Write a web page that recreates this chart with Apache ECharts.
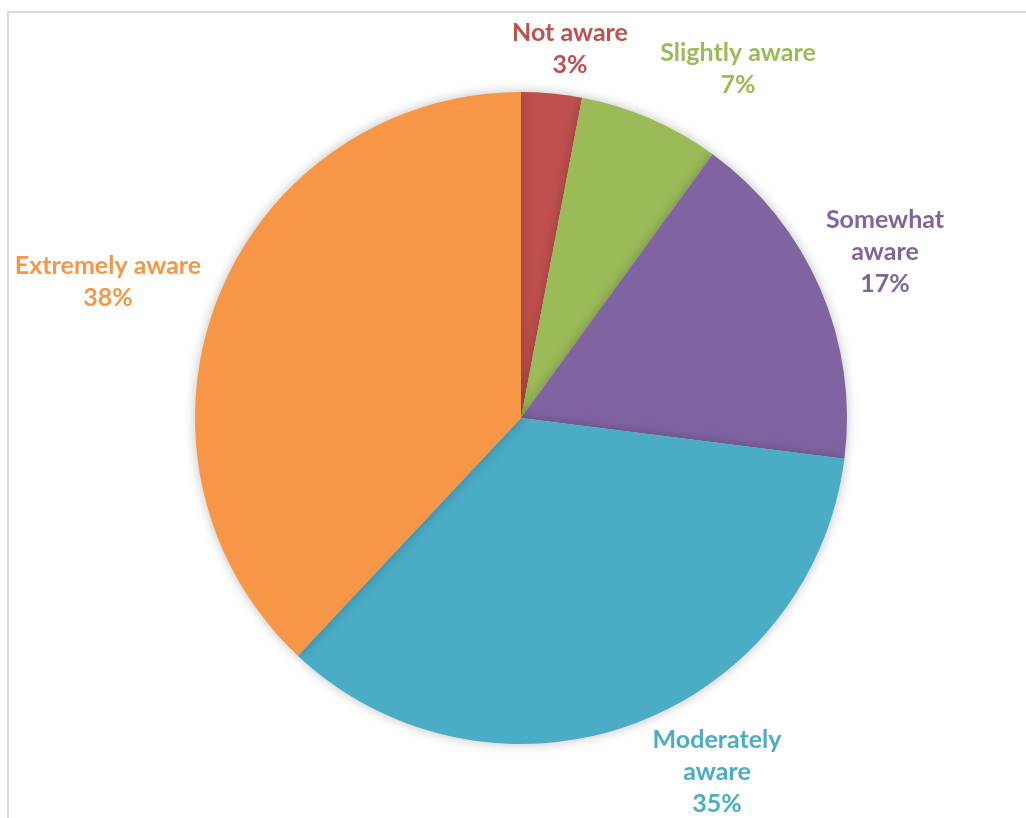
<!DOCTYPE html>
<html>
<head>
<meta charset="utf-8">
<script src="https://cdn.jsdelivr.net/npm/echarts@6/dist/echarts.min.js"></script>
<style>
  html, body { margin: 0; padding: 0; background: #ffffff; }
  #frame { position: absolute; left: 7px; top: 11px; width: 1030px; height: 820px;
           border-left: 2px solid #d9d9d9; border-top: 2px solid #d9d9d9; }
  #chart { position: absolute; left: 0; top: 0; width: 1026px; height: 818px; }
</style>
</head>
<body>
<div id="frame"></div>
<div id="chart"></div>
<script>
// Awareness levels, clockwise from 12 o'clock
const categories = ['Not aware', 'Slightly aware', 'Somewhat aware', 'Moderately aware', 'Extremely aware'];
const labelText = ['Not aware', 'Slightly aware', 'Somewhat\naware', 'Moderately\naware', 'Extremely aware'];
const shares = [3, 7, 17, 35, 38];
const colors = ['#C0504D', '#9BBB59', '#8064A2', '#4BACC6', '#F79646'];

// label anchor points (centre of each text block)
const labelPos = [[570, 49], [738, 69], [885, 252], [717, 772], [108, 282]];

const chart = echarts.init(document.getElementById('chart'), null, { renderer: 'canvas' });
chart.setOption({
  animation: false,
  series: [{
    type: 'pie',
    center: [521, 418],
    radius: 326,
    startAngle: 90,
    clockwise: true,
    data: categories.map((c, i) => ({
      name: c,
      value: shares[i],
      itemStyle: { color: colors[i] },
      label: { color: colors[i] }
    })),
    itemStyle: {
      borderWidth: 0,
      shadowBlur: 12,
      shadowColor: 'rgba(0,0,0,0.25)'
    },
    label: {
      show: true,
      position: 'outside',
      fontFamily: 'Lato, "Open Sans", sans-serif',
      fontWeight: 'bold',
      fontSize: 25,
      lineHeight: 32,
      align: 'center',
      overflow: 'none',
      width: 400,
      formatter: p => labelText[p.dataIndex] + '\n' + p.value + '%'
    },
    labelLine: { show: false },
    labelLayout: p => ({
      x: labelPos[p.dataIndex][0],
      y: labelPos[p.dataIndex][1],
      align: 'center',
      verticalAlign: 'middle'
    })
  }]
});
</script>
</body>
</html>
